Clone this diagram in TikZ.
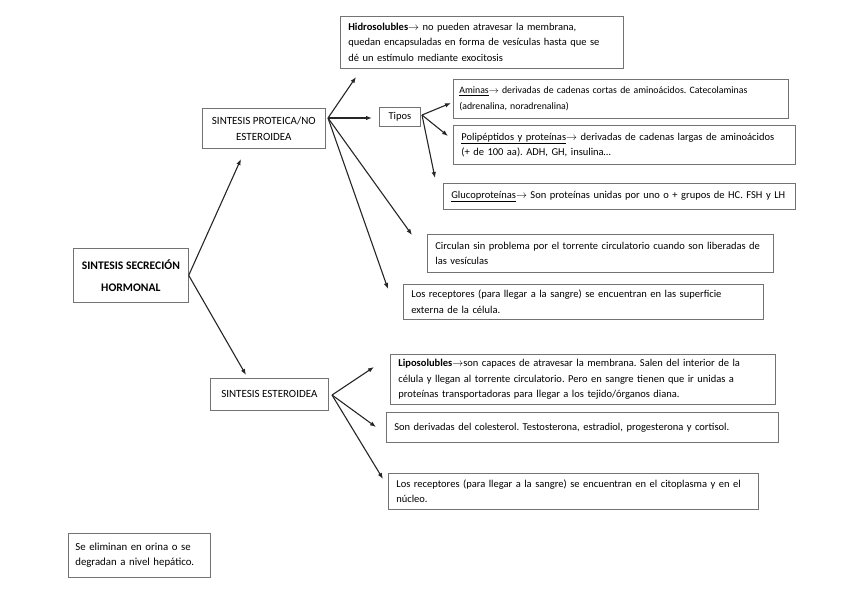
\documentclass[tikz,border=0pt]{standalone}
\usepackage{fontspec}
\setmainfont{Carlito}
\frenchspacing
\usetikzlibrary{arrows.meta, shadows}

\begin{document}
\begin{tikzpicture}[
    x=1pt, y=-1pt,
    box/.style={rectangle, draw=black!55, line width=0.7pt, fill=white, anchor=north west, align=left, inner xsep=8pt, inner ysep=2pt, font=\fontsize{10.5}{15.5}\selectfont, drop shadow={shadow xshift=1.1pt, shadow yshift=-1.1pt, opacity=0.55, fill=black!60}},
    title/.style={box, align=center, inner xsep=5pt, font=\fontsize{11}{16}\selectfont},
    arrow/.style={-{Latex[length=6pt, width=4.5pt]}, line width=1.1pt, color=black!85}
]
\useasboundingbox (0,0) rectangle (848,599);

% main branches
\node[title, minimum width=115, minimum height=54, font=\fontsize{11.6}{22}\selectfont\bfseries] (hormonal) at (73,248) {SINTESIS SECRECIÓN\\HORMONAL};
\node[title, minimum width=123, minimum height=40] (proteica) at (202,108) {SINTESIS PROTEICA/NO\\ESTEROIDEA};
\node[title, minimum width=118, minimum height=32] (esteroidea) at (210,378) {SINTESIS ESTEROIDEA};

% proteica / no esteroidea
\node[box, text width=267, minimum height=52] (hidro) at (340,16) {\textbf{Hidrosolubles}$\rightarrow$ no pueden atravesar la membrana,\\quedan encapsuladas en forma de vesículas hasta que se\\dé un estímulo mediante exocitosis};
\node[title, minimum width=41, minimum height=19, inner xsep=2pt, font=\fontsize{10.5}{14}\selectfont] (tipos) at (379,107) {Tipos};
\node[box, text width=323, inner xsep=6pt, minimum height=39, font=\fontsize{9.8}{15.5}\selectfont] (aminas) at (453,79) {\underline{Aminas}$\rightarrow$ derivadas de cadenas cortas de aminoácidos. Catecolaminas\\(adrenalina, noradrenalina)};
\node[box, text width=326, minimum height=39] (polip) at (453,125) {\underline{Polipéptidos y proteínas}$\rightarrow$ derivadas de cadenas largas de aminoácidos\\(+ de 100 aa). ADH, GH, insulina…};
\node[box, text width=336, minimum height=26] (gluco) at (443,183) {\underline{Glucoproteínas}$\rightarrow$ Son proteínas unidas por uno o + grupos de HC. FSH y LH};
\node[box, text width=330, minimum height=38] (circulan) at (427,234) {Circulan sin problema por el torrente circulatorio cuando son liberadas de\\las vesículas};
\node[box, text width=344, minimum height=35] (recsup) at (403,284) {Los receptores (para llegar a la sangre) se encuentran en las superficie\\externa de la célula.};

% esteroidea
\node[box, text width=369, minimum height=50] (lipo) at (390,354) {\textbf{Liposolubles}$\rightarrow$son capaces de atravesar la membrana. Salen del interior de la\\célula y llegan al torrente circulatorio. Pero en sangre tienen que ir unidas a\\proteínas transportadoras para llegar a los tejido/órganos diana.};
\node[box, text width=376, minimum height=30] (deriv) at (386,412) {Son derivadas del colesterol. Testosterona, estradiol, progesterona y cortisol.};
\node[box, text width=354, minimum height=36] (reccit) at (388,473) {Los receptores (para llegar a la sangre) se encuentran en el citoplasma y en el\\núcleo.};

\node[box, text width=128, inner xsep=7pt, minimum height=44, font=\fontsize{10.8}{15.5}\selectfont] (elimina) at (68,533) {Se eliminan en orina o se\\degradan a nivel hepático.};

% arrow ends
\coordinate (protout) at (328,118);
\coordinate (tipout) at (422,115);
\coordinate (esterout) at (332,395);
\coordinate (proteicain) at (241,159);
\coordinate (esteroideain) at (246,375);
\coordinate (hidroin) at (356,77);
\coordinate (tiposin) at (372,118);
\coordinate (circulanin) at (412,235);
\coordinate (recsupin) at (388,289);
\coordinate (aminasin) at (451,103);
\coordinate (polipin) at (448,136);
\coordinate (glucoin) at (435,178);
\coordinate (lipoin) at (374,367);
\coordinate (derivin) at (376,427);
\coordinate (reccitin) at (383,479);

\draw[arrow] (hormonal.east) -- (proteicain);
\draw[arrow] (hormonal.east) -- (esteroideain);
\foreach \t in {hidroin, tiposin, circulanin, recsupin}
  \draw[arrow] (protout) -- (\t);
\foreach \t in {aminasin, polipin, glucoin}
  \draw[arrow] (tipout) -- (\t);
\foreach \t in {lipoin, derivin, reccitin}
  \draw[arrow] (esterout) -- (\t);
\end{tikzpicture}
\end{document}
